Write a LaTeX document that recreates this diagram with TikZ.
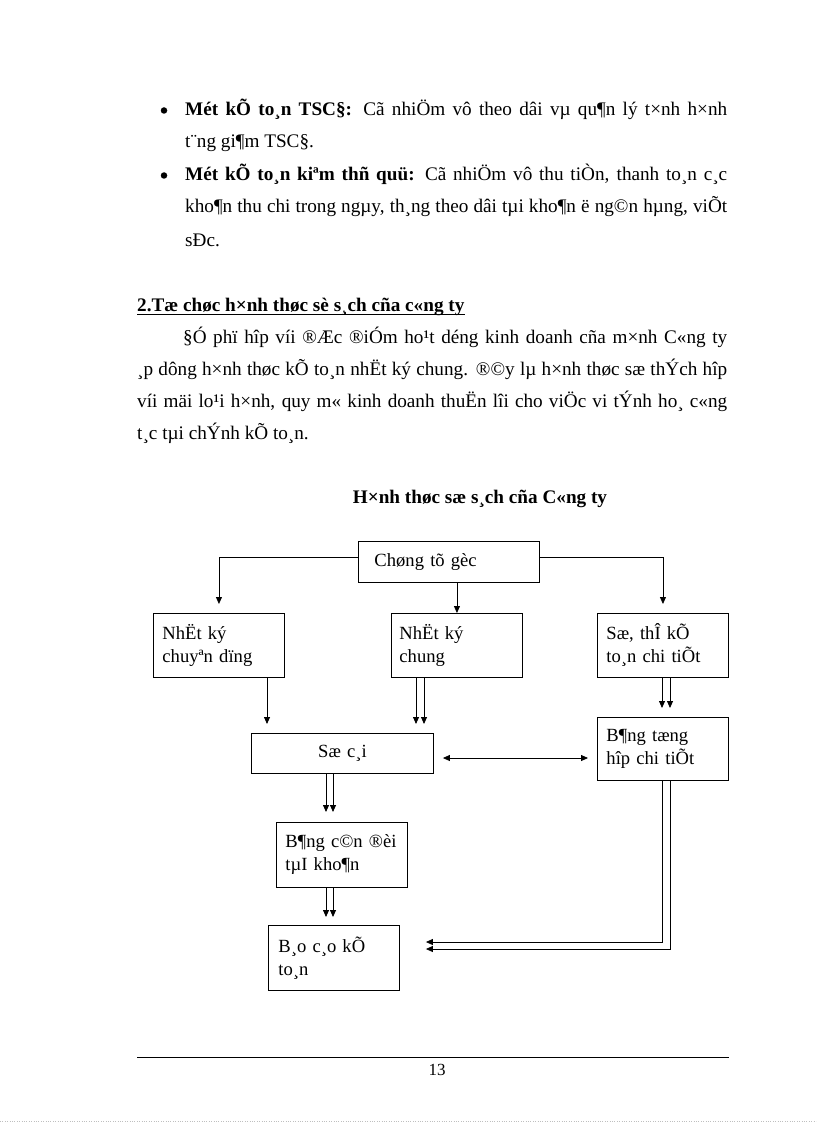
\documentclass[tikz,border=0pt]{standalone}
\usepackage{fontspec}
\setmainfont{Liberation Serif}
\usetikzlibrary{arrows.meta}
\newcommand{\bodyfont}{\fontsize{19.2}{32.5}\selectfont}
\newcommand{\boxfont}{\fontsize{18.6}{23}\selectfont}
\newcommand{\textline}[5]{\node[txt] (#1) at (#2,#3) {\makebox[#4pt][s]{#5}};}
\tikzset{
  txt/.style={anchor=base west, inner sep=0pt, font=\bodyfont},
  bulletdot/.style={circle, fill, inner sep=0pt, minimum size=6.5pt},
  flowbox/.style={draw, line width=0.9pt, anchor=north west, inner ysep=0pt, align=left, font=\boxfont},
  arr/.style={-{Triangle[length=7pt,width=6pt]}, line width=0.8pt, shorten >=9pt},
}
\begin{document}
\begin{tikzpicture}[x=1pt,y=-1pt]
        \useasboundingbox (0,0) rectangle (816,1123);
        %text
        \node[bulletdot] (dot1) at (164,110.5) {};
        \textline{b1a}{185}{116}{542}{\textbf{Mét kÕ to¸n TSC§:} Cã nhiÖm vô theo dâi vµ qu¶n lý t×nh h×nh}
        \node[txt] (b1b) at (185,148) {t¨ng gi¶m TSC§.};
        \node[bulletdot] (dot2) at (164,175.5) {};
        \textline{b2a}{185}{181}{542}{\textbf{Mét kÕ to¸n kiªm thñ quü:} Cã nhiÖm vô thu tiÒn, thanh to¸n c¸c}
        \textline{b2b}{185}{213}{542}{kho¶n thu chi trong ngµy, th¸ng theo dâi tµi kho¶n ë ng©n hµng, viÕt}
        \node[txt] (b2c) at (185,246) {sÐc.};
        \node[txt, font=\bodyfont\bfseries] (head) at (137,311) {2.Tæ chøc h×nh thøc sè s¸ch cña c«ng ty};
        \draw[line width=1.3pt] ([yshift=-3.5pt]head.base west) -- ([yshift=-3.5pt]head.base east);
        \textline{p1}{183}{343}{544}{§Ó phï hîp víi ®Æc ®iÓm ho¹t déng kinh doanh cña m×nh C«ng ty}
        \textline{p2}{137}{375}{590}{¸p dông h×nh thøc kÕ to¸n nhËt ký chung. ®©y lµ h×nh thøc sæ thÝch hîp}
        \textline{p3}{137}{407}{590}{víi mäi lo¹i h×nh, quy m« kinh doanh thuËn lîi cho viÖc vi tÝnh ho¸ c«ng}
        \node[txt] (p4) at (137,439) {t¸c tµi chÝnh kÕ to¸n.};
        \node[txt, anchor=base, font=\bodyfont\bfseries] (title) at (480,503) {H×nh thøc sæ s¸ch cña C«ng ty};
        %boxes
        \node[flowbox, inner xsep=16pt, text width=149pt, minimum height=41pt] (goc) at (358,541) {Chøng tõ gèc};
        \node[flowbox, inner xsep=9pt, text width=113pt, minimum height=64pt] (nkcd) at (153,613) {NhËt ký\\chuyªn dïng};
        \node[flowbox, inner xsep=8pt, text width=115pt, minimum height=64pt] (nkc) at (391,613) {NhËt ký\\chung};
        \node[flowbox, inner xsep=9pt, text width=113pt, minimum height=64pt] (sothe) at (597,613) {Sæ, thÎ kÕ\\to¸n chi tiÕt};
        \node[flowbox, align=center, inner xsep=9pt, text width=164pt, minimum height=40pt] (socai) at (251,733) {Sæ c¸i};
        \node[flowbox, inner xsep=9pt, text width=113pt, minimum height=63pt] (bangth) at (597,717) {B¶ng tæng\\hîp chi tiÕt};
        \node[flowbox, inner xsep=9pt, text width=113pt, minimum height=65pt] (cdtk) at (276,822) {B¶ng c©n ®èi\\tµI kho¶n};
        \node[flowbox, inner xsep=10pt, text width=111pt, minimum height=65pt] (bctc) at (268,925) {B¸o c¸o kÕ\\to¸n};
        %guides
        \coordinate (xa) at (267,0);
        \coordinate (xb1) at (416,0);
        \coordinate (xb2) at (424,0);
        \coordinate (xc1) at (662,0);
        \coordinate (xc2) at (670,0);
        \coordinate (xd1) at (326,0);
        \coordinate (xd2) at (333,0);
        \coordinate (ye) at (0,758);
        \coordinate (yf1) at (0,942);
        \coordinate (yf2) at (0,949);
        %edges
        \draw[arr] ([yshift=4.5pt]goc.west) -| (nkcd.north);
        \draw[arr] ([yshift=4.5pt]goc.east) -| (sothe.north);
        \draw[arr, shorten >=0pt] (goc.south -| nkc.north) -- (nkc.north);
        \draw[arr] (nkcd.south -| xa) -- (socai.north -| xa);
        \foreach \c in {xb1,xb2} \draw[arr] (nkc.south -| \c) -- (socai.north -| \c);
        \foreach \c in {xc1,xc2} \draw[arr] (sothe.south -| \c) -- (bangth.north -| \c);
        \draw[arr, {Triangle[length=7pt,width=6pt]}-{Triangle[length=7pt,width=6pt]}, shorten <=9pt] (socai.east |- ye) -- (bangth.west |- ye);
        \foreach \c in {xd1,xd2} \draw[arr, shorten >=10pt] (socai.south -| \c) -- (cdtk.north -| \c);
        \foreach \c in {xd1,xd2} \draw[arr, shorten >=8pt] (cdtk.south -| \c) -- (bctc.north -| \c);
        \draw[arr, shorten >=26pt] (bangth.south -| xc1) |- (bctc.east |- yf1);
        \draw[arr, shorten >=26pt] (bangth.south -| xc2) |- (bctc.east |- yf2);
        %footer
        \draw[line width=1pt] (137,1057) -- (729,1057);
        \node[anchor=base, inner sep=0pt, font=\fontsize{17}{20}\selectfont] (pnum) at (437,1075) {13};
        \draw[gray!50, dotted] (0,1121) -- (816,1121);
\end{tikzpicture}
\end{document}
